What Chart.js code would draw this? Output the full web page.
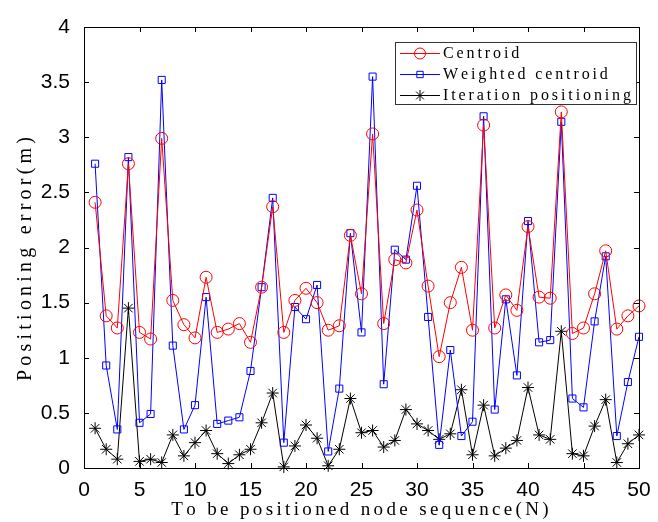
<!DOCTYPE html>
<html>
<head>
<meta charset="utf-8">
<script src="https://cdn.jsdelivr.net/npm/chart.js@4/dist/chart.umd.min.js"></script>
<style>
  html, body { margin: 0; padding: 0; background: #fff; }
  #wrap { width: 658px; height: 522px; }
</style>
</head>
<body>
<div id="wrap"><canvas id="errChart" width="658" height="522"></canvas></div>
<script>
// node index 1..50
const nodes = [1,2,3,4,5,6,7,8,9,10,11,12,13,14,15,16,17,18,19,20,
  21,22,23,24,25,26,27,28,29,30,31,32,33,34,35,36,37,38,39,40,
  41,42,43,44,45,46,47,48,49,50]

const centroid = [2.41,1.38,1.27,2.76,1.23,1.17,2.99,1.52,1.30,1.18,
  1.73,1.23,1.26,1.31,1.14,1.64,2.37,1.23,1.52,1.63,
  1.50,1.25,1.29,2.11,1.58,3.03,1.31,1.89,1.86,2.34,
  1.65,1.01,1.50,1.82,1.25,3.11,1.27,1.57,1.43,2.19,
  1.55,1.54,3.23,1.22,1.27,1.58,1.97,1.26,1.38,1.47]

const weighted = [2.76,0.93,0.35,2.82,0.41,0.49,3.52,1.11,0.35,0.57,
  1.55,0.40,0.43,0.46,0.88,1.64,2.45,0.23,1.46,1.35,
  1.66,0.15,0.72,2.13,1.23,3.55,0.76,1.98,1.89,2.56,
  1.37,0.21,1.07,0.29,0.42,3.19,0.53,1.53,0.84,2.24,
  1.14,1.16,3.14,0.63,0.55,1.33,1.92,0.29,0.78,1.19]

const iteration = [0.36,0.17,0.08,1.45,0.06,0.08,0.05,0.30,0.11,0.23,
  0.34,0.13,0.04,0.12,0.17,0.41,0.68,0.01,0.20,0.39,
  0.27,0.02,0.17,0.63,0.32,0.34,0.19,0.25,0.53,0.40,
  0.34,0.26,0.31,0.71,0.12,0.57,0.11,0.18,0.25,0.73,
  0.30,0.26,1.24,0.13,0.11,0.38,0.62,0.05,0.22,0.30]

const xTicks = [0,5,10,15,20,25,30,35,40,45,50]
const yTicks = [0,0.5,1,1.5,2,2.5,3,3.5,4]

const xTitle = 'To be positioned node sequence(N)'
const yTitle = 'Positioning error(m)'

function pts(arr) {
  return arr.map((v, i) => ({x: nodes[i], y: v}))
}

const seriesNames = ['Centroid', 'Weighted centroid', 'Iteration positioning']
const seriesColors = ['#ff0000', '#0000ff', '#000000']
const markers = ['circle', 'rect', 'star']

const serifFont = '"Liberation Serif", "Times New Roman", serif'

// spacing needed so str comes out "target" px wide (original font is much wider)
function spacingFor(ctx, str, target) {
  const natural = ctx.measureText(str).width
  return Math.max(0, (target - natural) / (str.length - 1))
}

// draw text one char at a time
function spacedText(ctx, str, x, y, spacing, align) {
  const chars = str.split('')
  const widths = chars.map(c => ctx.measureText(c).width)
  const total = widths.reduce((s, w) => s + w, 0) + spacing * (chars.length - 1)
  let cx = align === 'center' ? x - total / 2 : x
  ctx.textAlign = 'left'
  chars.forEach((c, i) => {
    ctx.fillText(c, cx, y)
    cx += widths[i] + spacing
  })
}

// matlab style box + inward ticks, titles and legend
const boxPlugin = {
  id: 'boxTicks',
  afterDraw(chart) {
    const ctx = chart.ctx
    const a = chart.chartArea
    const xs = chart.scales.x, ys = chart.scales.y
    ctx.save()
    ctx.strokeStyle = '#000'
    ctx.lineWidth = 1
    ctx.strokeRect(a.left + 0.5, a.top + 0.5, a.right - a.left, a.bottom - a.top)
    ctx.beginPath()
    xTicks.forEach(t => {
      const px = Math.round(xs.getPixelForValue(t)) + 0.5
      ctx.moveTo(px, a.bottom); ctx.lineTo(px, a.bottom - 5)
      ctx.moveTo(px, a.top); ctx.lineTo(px, a.top + 5)
    })
    yTicks.forEach(t => {
      const py = Math.round(ys.getPixelForValue(t)) + 0.5
      ctx.moveTo(a.left, py); ctx.lineTo(a.left + 5, py)
      ctx.moveTo(a.right, py); ctx.lineTo(a.right - 5, py)
    })
    ctx.stroke()

    // axis titles
    ctx.fillStyle = '#000'
    ctx.textBaseline = 'middle'
    ctx.font = '19px ' + serifFont
    spacedText(ctx, xTitle, 360, 510, spacingFor(ctx, xTitle, 376), 'center')
    ctx.save()
    ctx.translate(26, 259)
    ctx.rotate(-Math.PI / 2)
    ctx.font = '20px ' + serifFont
    spacedText(ctx, yTitle, 0, 0, spacingFor(ctx, yTitle, 244), 'center')
    ctx.restore()

    // legend box
    const lx = 395, ly = 42, lw = 241, lh = 62
    ctx.fillStyle = '#fff'
    ctx.fillRect(lx, ly, lw, lh)
    ctx.strokeStyle = '#333'
    ctx.strokeRect(lx + 0.5, ly + 0.5, lw, lh)
    ctx.font = '16px ' + serifFont
    const legSp = spacingFor(ctx, seriesNames[2], 188)
    seriesNames.forEach((name, i) => {
      const y = ly + 11 + i * 21
      ctx.strokeStyle = seriesColors[i]
      ctx.lineWidth = 1
      ctx.beginPath()
      ctx.moveTo(lx + 5, y + 0.5); ctx.lineTo(lx + 45, y + 0.5)
      ctx.stroke()
      ctx.fillStyle = 'rgba(0,0,0,0)'
      Chart.helpers.drawPoint(ctx, {
        pointStyle: markers[i], radius: markers[i] === 'rect' ? 4.5 : 5.5,
        rotation: 0, borderWidth: 1
      }, lx + 25, y + 0.5)
      ctx.fillStyle = '#000'
      spacedText(ctx, name, lx + 48, y + 1, legSp, 'left')
    })
    ctx.restore()
  }
}

const datasets = [centroid, weighted, iteration].map((arr, i) => ({
  label: seriesNames[i],
  data: pts(arr),
  borderColor: seriesColors[i],
  backgroundColor: 'rgba(0,0,0,0)',
  borderWidth: 1,
  pointStyle: markers[i],
  pointRadius: markers[i] === 'rect' ? 5 : 6,
  pointBorderColor: seriesColors[i],
  pointBorderWidth: 1,
  pointBackgroundColor: 'rgba(0,0,0,0)',
  tension: 0,
  clip: false
}))

const chart = new Chart(document.getElementById('errChart'), {
  type: 'line',
  data: { datasets: datasets },
  options: {
    responsive: false,
    animation: false,
    events: [],
    layout: { padding: { left: 0, right: 19, top: 27, bottom: 0 } },
    plugins: { legend: { display: false }, tooltip: { enabled: false } },
    scales: {
      x: {
        type: 'linear', min: 0, max: 50,
        afterFit: s => { s.height = 54 },
        afterBuildTicks: s => { s.ticks = xTicks.map(v => ({value: v})) },
        grid: { display: false },
        border: { display: false },
        ticks: { color: '#000', padding: 2, maxRotation: 0,
          font: { family: '"Liberation Sans", Arial, sans-serif', size: 21 } },
        title: { display: false, text: xTitle }
      },
      y: {
        min: 0, max: 4,
        afterFit: s => { s.width = 84 },
        afterBuildTicks: s => { s.ticks = yTicks.map(v => ({value: v})) },
        grid: { display: false },
        border: { display: false },
        ticks: { color: '#000', padding: 6, callback: v => String(v),
          font: { family: '"Liberation Sans", Arial, sans-serif', size: 21 } },
        title: { display: false, text: yTitle }
      }
    }
  },
  plugins: [boxPlugin]
})
</script>
</body>
</html>
